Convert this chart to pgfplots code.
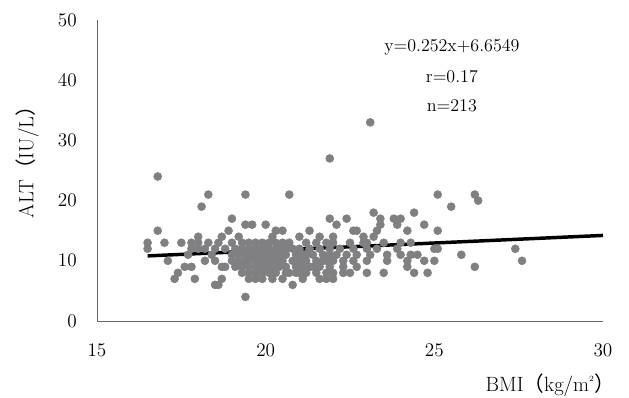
\documentclass[border=0pt]{standalone}
\usepackage{fontspec}
\usepackage{pgfplots}
\pgfplotsset{compat=1.18}
\newfontfamily\cjk{Noto Sans CJK JP}
\definecolor{dotgray}{RGB}{128,128,130}
\begin{document}
\begin{tikzpicture}
\useasboundingbox (-72.75pt,-57.75pt) rectangle (399pt,240.75pt);
\begin{axis}[
  at={(0,0)}, anchor=south west,
  scale only axis, width=379.5pt, height=225.75pt,
  xmin=15, xmax=30, ymin=0, ymax=50,
  xtick={15,20,25,30}, ytick={0,10,20,30,40,50},
  axis lines*=left,
  axis line style={black!60, line width=0.7pt},
  major tick length=0pt,
  tick label style={font=\fontsize{15.5}{18}\selectfont},
  yticklabel style={anchor=east, inner sep=0pt, xshift=-15pt},
  xticklabel style={anchor=north, inner sep=0pt, yshift=-17.5pt},
  clip=false,
]
\addplot[only marks, mark=*, mark size=3pt, color=dotgray, mark options={draw=dotgray, fill=dotgray}] table {
x y
23.1 33
21.9 27
16.8 24
18.3 21
19.4 21
20.7 21
25.1 21
26.2 21
26.3 20
18.1 19
25.5 19
23.2 18
24.4 18
19.0 17
21.9 17
22.4 17
23.4 17
23.8 17
24.0 17
19.4 16
19.6 16
20.0 16
22.1 16
23.4 16
23.9 16
24.7 16
16.8 15
18.9 15
20.3 15
20.5 15
21.3 15
22.6 15
22.7 15
23.3 15
24.2 15
25.1 15
18.0 14
18.7 14
19.2 14
20.2 14
21.0 14
22.0 14
23.2 14
21.6 14
22.9 14
16.5 13
17.0 13
17.5 13
17.8 13
18.0 13
18.3 13
18.6 13
19.0 13
19.3 13
19.5 13
19.7 13
19.9 13
20.1 13
20.3 13
20.5 13
20.7 13
21.2 13
21.5 13
22.0 13
22.5 13
22.9 13
23.5 13
24.0 13
21.8 13
23.0 13
24.3 13
16.5 12
17.8 12
18.0 12
18.2 12
18.5 12
18.8 12
19.1 12
19.3 12
19.5 12
19.7 12
19.9 12
20.1 12
20.3 12
20.4 12
20.6 12
20.8 12
21.0 12
21.3 12
21.6 12
21.9 12
22.2 12
22.6 12
23.0 12
23.3 12
23.9 12
25.0 12
25.1 12
27.4 12
20.0 12
17.7 11
18.4 11
19.0 11
19.2 11
19.4 11
19.6 11
19.8 11
20.0 11
20.2 11
20.4 11
20.6 11
20.9 11
21.1 11
21.4 11
21.7 11
21.9 11
22.1 11
22.4 11
22.7 11
23.1 11
23.6 11
24.3 11
24.5 11
25.8 11
20.5 11
21.2 11
24.0 11
17.1 10
18.2 10
18.5 10
19.0 10
19.2 10
19.4 10
19.5 10
19.7 10
19.9 10
20.1 10
20.3 10
20.5 10
20.8 10
21.0 10
21.2 10
21.5 10
21.7 10
22.0 10
22.3 10
22.6 10
23.0 10
23.6 10
24.2 10
24.7 10
27.6 10
19.8 10
20.4 10
21.8 10
25.0 10
17.6 9
17.8 9
18.7 9
18.8 9
19.1 9
19.3 9
19.5 9
19.7 9
19.8 9
20.0 9
20.2 9
20.4 9
20.6 9
20.9 9
21.1 9
21.4 9
21.6 9
21.9 9
22.3 9
22.7 9
24.2 9
26.2 9
21.3 9
17.4 8
19.3 8
19.5 8
19.7 8
19.9 8
20.1 8
20.3 8
20.6 8
20.9 8
21.2 8
21.5 8
21.8 8
22.0 8
22.3 8
22.5 8
23.0 8
23.5 8
24.4 8
24.8 8
21.0 8
20.7 8
17.3 7
17.9 7
18.7 7
19.5 7
19.7 7
20.5 7
21.1 7
21.6 7
21.8 7
22.0 7
19.9 7
20.2 7
18.5 6
18.6 6
20.8 6
19.4 4
};
\addplot[black, line width=2.6pt] coordinates {(16.5,10.813) (30,14.215)};
\node[font=\fontsize{13.5}{16}\selectfont] at (axis cs:25.52,45.5) {y=0.252x+6.6549};
\node[font=\fontsize{13.5}{16}\selectfont] at (axis cs:25.52,40.6) {r=0.17};
\node[font=\fontsize{13.5}{16}\selectfont] at (axis cs:25.52,35.7) {n=213};
\node[font=\fontsize{15.5}{18}\selectfont, anchor=base east, inner sep=0pt] at ([xshift=9pt,yshift=-53pt]axis cs:30,0) {BMI{\cjk （}kg/m\raisebox{1.1ex}{\fontsize{6}{7}\selectfont 2}{\cjk ）}};
\node[font=\fontsize{15.5}{18}\selectfont, rotate=90, inner sep=0pt] at ([xshift=-52.5pt,yshift=123pt]axis cs:15,0) {ALT{\cjk （}IU/L{\cjk ）}};
\end{axis}
\end{tikzpicture}
\end{document}
